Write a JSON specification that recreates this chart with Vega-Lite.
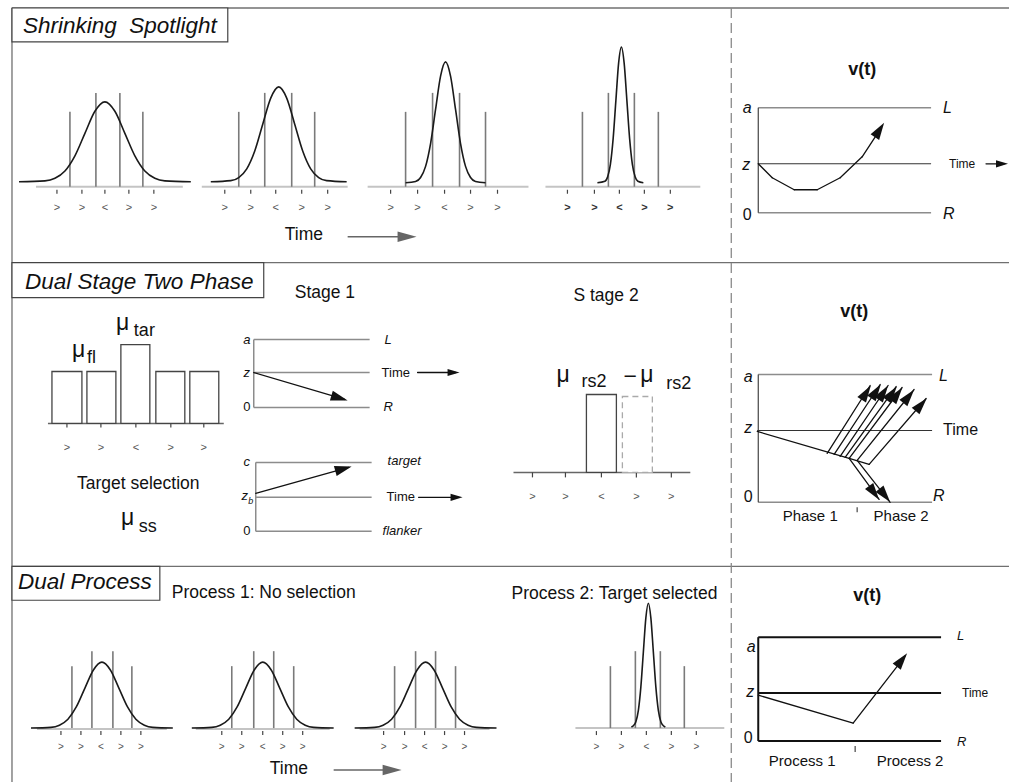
{
  "$schema": "https://vega.github.io/schema/vega-lite/v6.json",
  "width": 1010,
  "height": 783,
  "autosize": {"type": "fit", "contains": "padding"},
  "padding": 0,
  "background": "white",
  "config": {"view": {"stroke": null}},
  "datasets": {
    "seg": [
      {"g": "frame", "x": 12, "y": 8, "x2": 1010, "y2": 8},
      {"g": "frame", "x": 12, "y": 8, "x2": 12, "y2": 783},
      {"g": "frame", "x": 12, "y": 263, "x2": 1010, "y2": 263},
      {"g": "frame", "x": 12, "y": 567, "x2": 1010, "y2": 567},
      {"g": "divider", "x": 732, "y": 8, "x2": 732, "y2": 783},

      {"g": "base", "x": 36, "y": 187, "x2": 183, "y2": 187},
      {"g": "base", "x": 202, "y": 187, "x2": 348, "y2": 187},
      {"g": "base", "x": 368, "y": 187, "x2": 529, "y2": 187},
      {"g": "base", "x": 546, "y": 187, "x2": 701, "y2": 187},
      {"g": "base", "x": 37, "y": 730, "x2": 167, "y2": 730},
      {"g": "base", "x": 196, "y": 730, "x2": 330, "y2": 730},
      {"g": "base", "x": 360, "y": 730, "x2": 490, "y2": 730},
      {"g": "base", "x": 576, "y": 729, "x2": 725, "y2": 729},
      {"g": "axis", "x": 48, "y": 424, "x2": 224, "y2": 424},
      {"g": "axis", "x": 514, "y": 473, "x2": 691, "y2": 473},

      {"g": "stim", "x": 70, "y": 112, "x2": 70, "y2": 187},
      {"g": "stim", "x": 96, "y": 93, "x2": 96, "y2": 187},
      {"g": "stim", "x": 120, "y": 93, "x2": 120, "y2": 187},
      {"g": "stim", "x": 143, "y": 112, "x2": 143, "y2": 187},
      {"g": "stim", "x": 239, "y": 112, "x2": 239, "y2": 187},
      {"g": "stim", "x": 265, "y": 93, "x2": 265, "y2": 187},
      {"g": "stim", "x": 292, "y": 93, "x2": 292, "y2": 187},
      {"g": "stim", "x": 315, "y": 112, "x2": 315, "y2": 187},
      {"g": "stim", "x": 406, "y": 112, "x2": 406, "y2": 187},
      {"g": "stim", "x": 433, "y": 93, "x2": 433, "y2": 187},
      {"g": "stim", "x": 460, "y": 93, "x2": 460, "y2": 187},
      {"g": "stim", "x": 486, "y": 112, "x2": 486, "y2": 187},
      {"g": "stim", "x": 583, "y": 112, "x2": 583, "y2": 187},
      {"g": "stim", "x": 609, "y": 93, "x2": 609, "y2": 187},
      {"g": "stim", "x": 635, "y": 93, "x2": 635, "y2": 187},
      {"g": "stim", "x": 659, "y": 112, "x2": 659, "y2": 187},
      {"g": "stim", "x": 72, "y": 667, "x2": 72, "y2": 729},
      {"g": "stim", "x": 92, "y": 652, "x2": 92, "y2": 729},
      {"g": "stim", "x": 113, "y": 652, "x2": 113, "y2": 729},
      {"g": "stim", "x": 132, "y": 667, "x2": 132, "y2": 729},
      {"g": "stim", "x": 232, "y": 667, "x2": 232, "y2": 729},
      {"g": "stim", "x": 254, "y": 652, "x2": 254, "y2": 729},
      {"g": "stim", "x": 274, "y": 652, "x2": 274, "y2": 729},
      {"g": "stim", "x": 294, "y": 667, "x2": 294, "y2": 729},
      {"g": "stim", "x": 395, "y": 667, "x2": 395, "y2": 729},
      {"g": "stim", "x": 416, "y": 652, "x2": 416, "y2": 729},
      {"g": "stim", "x": 436, "y": 652, "x2": 436, "y2": 729},
      {"g": "stim", "x": 456, "y": 667, "x2": 456, "y2": 729},
      {"g": "stim", "x": 611, "y": 667, "x2": 611, "y2": 729},
      {"g": "stim", "x": 636, "y": 652, "x2": 636, "y2": 729},
      {"g": "stim", "x": 661, "y": 652, "x2": 661, "y2": 729},
      {"g": "stim", "x": 685, "y": 667, "x2": 685, "y2": 729},

      {"g": "tick", "x": 57, "y": 190, "x2": 57, "y2": 194},
      {"g": "tick", "x": 82, "y": 190, "x2": 82, "y2": 194},
      {"g": "tick", "x": 105, "y": 190, "x2": 105, "y2": 194},
      {"g": "tick", "x": 129, "y": 190, "x2": 129, "y2": 194},
      {"g": "tick", "x": 154, "y": 190, "x2": 154, "y2": 194},
      {"g": "tick", "x": 225, "y": 190, "x2": 225, "y2": 194},
      {"g": "tick", "x": 251, "y": 190, "x2": 251, "y2": 194},
      {"g": "tick", "x": 276, "y": 190, "x2": 276, "y2": 194},
      {"g": "tick", "x": 302, "y": 190, "x2": 302, "y2": 194},
      {"g": "tick", "x": 328, "y": 190, "x2": 328, "y2": 194},
      {"g": "tick", "x": 391, "y": 190, "x2": 391, "y2": 194},
      {"g": "tick", "x": 418, "y": 190, "x2": 418, "y2": 194},
      {"g": "tick", "x": 445, "y": 190, "x2": 445, "y2": 194},
      {"g": "tick", "x": 471, "y": 190, "x2": 471, "y2": 194},
      {"g": "tick", "x": 498, "y": 190, "x2": 498, "y2": 194},
      {"g": "tick", "x": 568, "y": 190, "x2": 568, "y2": 194},
      {"g": "tick", "x": 595, "y": 190, "x2": 595, "y2": 194},
      {"g": "tick", "x": 620, "y": 190, "x2": 620, "y2": 194},
      {"g": "tick", "x": 645, "y": 190, "x2": 645, "y2": 194},
      {"g": "tick", "x": 671, "y": 190, "x2": 671, "y2": 194},
      {"g": "tick", "x": 67, "y": 424, "x2": 67, "y2": 428},
      {"g": "tick", "x": 101, "y": 424, "x2": 101, "y2": 428},
      {"g": "tick", "x": 136, "y": 424, "x2": 136, "y2": 428},
      {"g": "tick", "x": 171, "y": 424, "x2": 171, "y2": 428},
      {"g": "tick", "x": 204, "y": 424, "x2": 204, "y2": 428},
      {"g": "tick", "x": 533, "y": 473, "x2": 533, "y2": 478},
      {"g": "tick", "x": 566, "y": 473, "x2": 566, "y2": 478},
      {"g": "tick", "x": 602, "y": 473, "x2": 602, "y2": 478},
      {"g": "tick", "x": 637, "y": 473, "x2": 637, "y2": 478},
      {"g": "tick", "x": 672, "y": 473, "x2": 672, "y2": 478},
      {"g": "tick", "x": 61, "y": 732, "x2": 61, "y2": 736},
      {"g": "tick", "x": 81, "y": 732, "x2": 81, "y2": 736},
      {"g": "tick", "x": 101, "y": 732, "x2": 101, "y2": 736},
      {"g": "tick", "x": 121, "y": 732, "x2": 121, "y2": 736},
      {"g": "tick", "x": 141, "y": 732, "x2": 141, "y2": 736},
      {"g": "tick", "x": 222, "y": 732, "x2": 222, "y2": 736},
      {"g": "tick", "x": 242, "y": 732, "x2": 242, "y2": 736},
      {"g": "tick", "x": 263, "y": 732, "x2": 263, "y2": 736},
      {"g": "tick", "x": 283, "y": 732, "x2": 283, "y2": 736},
      {"g": "tick", "x": 303, "y": 732, "x2": 303, "y2": 736},
      {"g": "tick", "x": 384, "y": 732, "x2": 384, "y2": 736},
      {"g": "tick", "x": 405, "y": 732, "x2": 405, "y2": 736},
      {"g": "tick", "x": 425, "y": 732, "x2": 425, "y2": 736},
      {"g": "tick", "x": 445, "y": 732, "x2": 445, "y2": 736},
      {"g": "tick", "x": 465, "y": 732, "x2": 465, "y2": 736},
      {"g": "tick", "x": 597, "y": 732, "x2": 597, "y2": 736},
      {"g": "tick", "x": 622, "y": 732, "x2": 622, "y2": 736},
      {"g": "tick", "x": 647, "y": 732, "x2": 647, "y2": 736},
      {"g": "tick", "x": 672, "y": 732, "x2": 672, "y2": 736},
      {"g": "tick", "x": 697, "y": 732, "x2": 697, "y2": 736},
      {"g": "tick", "x": 858, "y": 508, "x2": 858, "y2": 513},
      {"g": "tick", "x": 856, "y": 747, "x2": 856, "y2": 753},

      {"g": "ddm", "x": 254, "y": 340, "x2": 254, "y2": 408},
      {"g": "ddm", "x": 254, "y": 340, "x2": 370, "y2": 340},
      {"g": "ddm", "x": 254, "y": 373, "x2": 370, "y2": 373},
      {"g": "ddm", "x": 254, "y": 408, "x2": 370, "y2": 408},
      {"g": "ddm", "x": 256, "y": 463, "x2": 256, "y2": 532},
      {"g": "ddm", "x": 256, "y": 463, "x2": 372, "y2": 463},
      {"g": "ddm", "x": 256, "y": 498, "x2": 372, "y2": 498},
      {"g": "ddm", "x": 256, "y": 532, "x2": 372, "y2": 532},
      {"g": "ddm", "x": 759, "y": 108, "x2": 932, "y2": 108},
      {"g": "ddm", "x": 759, "y": 213, "x2": 932, "y2": 213},
      {"g": "ddm", "x": 759, "y": 375, "x2": 933, "y2": 375},
      {"g": "ddm", "x": 759, "y": 503, "x2": 933, "y2": 503},
      {"g": "zline", "x": 759, "y": 108, "x2": 759, "y2": 213},
      {"g": "zline", "x": 759, "y": 164, "x2": 932, "y2": 164},
      {"g": "zline", "x": 759, "y": 375, "x2": 759, "y2": 503},
      {"g": "zline", "x": 758, "y": 431, "x2": 933, "y2": 431},
      {"g": "bold", "x": 759, "y": 638, "x2": 759, "y2": 742},
      {"g": "bold", "x": 759, "y": 638, "x2": 942, "y2": 638},
      {"g": "bold", "x": 759, "y": 694, "x2": 942, "y2": 694},
      {"g": "bold", "x": 759, "y": 742, "x2": 942, "y2": 742},

      {"g": "shaft", "x": 418, "y": 373, "x2": 456, "y2": 373},
      {"g": "shaft", "x": 419, "y": 498, "x2": 459, "y2": 498},
      {"g": "shaft", "x": 254, "y": 373, "x2": 345, "y2": 400},
      {"g": "shaft", "x": 256, "y": 494, "x2": 349, "y2": 468},
      {"g": "shaft", "x": 987, "y": 164, "x2": 1005, "y2": 164},
      {"g": "shaft", "x": 759, "y": 164, "x2": 773, "y2": 178},
      {"g": "shaft", "x": 773, "y": 178, "x2": 795, "y2": 190},
      {"g": "shaft", "x": 795, "y": 190, "x2": 818, "y2": 190},
      {"g": "shaft", "x": 818, "y": 190, "x2": 841, "y2": 178},
      {"g": "shaft", "x": 841, "y": 178, "x2": 863, "y2": 157},
      {"g": "shaft", "x": 863, "y": 157, "x2": 882, "y2": 128},
      {"g": "shaft", "x": 758, "y": 432, "x2": 850, "y2": 459},
      {"g": "shaft", "x": 850, "y": 459, "x2": 870, "y2": 465},
      {"g": "shaft", "x": 828, "y": 454, "x2": 871, "y2": 386},
      {"g": "shaft", "x": 835, "y": 455, "x2": 881, "y2": 385},
      {"g": "shaft", "x": 841, "y": 457, "x2": 889, "y2": 386},
      {"g": "shaft", "x": 846, "y": 458, "x2": 897, "y2": 387},
      {"g": "shaft", "x": 850, "y": 459, "x2": 903, "y2": 388},
      {"g": "shaft", "x": 858, "y": 461, "x2": 915, "y2": 390},
      {"g": "shaft", "x": 870, "y": 465, "x2": 927, "y2": 399},
      {"g": "shaft", "x": 850, "y": 459, "x2": 880, "y2": 500},
      {"g": "shaft", "x": 858, "y": 461, "x2": 891, "y2": 503},
      {"g": "shaft", "x": 759, "y": 696, "x2": 854, "y2": 724},
      {"g": "shaft", "x": 854, "y": 724, "x2": 906, "y2": 657},
      {"g": "timeline", "x": 348, "y": 237, "x2": 402, "y2": 237},
      {"g": "timeline", "x": 334, "y": 771, "x2": 388, "y2": 771}
    ],
    "rects": [
      {"g": "box", "x": 12, "x2": 228, "y": 8, "y2": 42},
      {"g": "box", "x": 12, "x2": 264, "y": 263, "y2": 298},
      {"g": "box", "x": 12, "x2": 160, "y": 567, "y2": 601},
      {"g": "bar", "x": 52, "x2": 82, "y": 372, "y2": 424},
      {"g": "bar", "x": 87, "x2": 116, "y": 372, "y2": 424},
      {"g": "bar", "x": 121, "x2": 150, "y": 345, "y2": 424},
      {"g": "bar", "x": 156, "x2": 185, "y": 372, "y2": 424},
      {"g": "bar", "x": 190, "x2": 219, "y": 372, "y2": 424},
      {"g": "bar", "x": 587, "x2": 617, "y": 395, "y2": 473},
      {"g": "ghost", "x": 623, "x2": 653, "y": 397, "y2": 473}
    ],
    "curves": [
      {"c": "s1", "x": 19, "y": 182}, {"c": "s1", "x": 45, "y": 181.1}, {"c": "s1", "x": 55, "y": 178.5},
      {"c": "s1", "x": 65, "y": 171.2}, {"c": "s1", "x": 75, "y": 156}, {"c": "s1", "x": 85, "y": 133.5},
      {"c": "s1", "x": 95, "y": 111.4}, {"c": "s1", "x": 105, "y": 102}, {"c": "s1", "x": 115, "y": 111.4},
      {"c": "s1", "x": 125, "y": 133.5}, {"c": "s1", "x": 135, "y": 156}, {"c": "s1", "x": 145, "y": 171.2},
      {"c": "s1", "x": 155, "y": 178.5}, {"c": "s1", "x": 165, "y": 181.1}, {"c": "s1", "x": 191, "y": 182},

      {"c": "s2", "x": 211, "y": 182}, {"c": "s2", "x": 231, "y": 180.9}, {"c": "s2", "x": 239, "y": 177.8},
      {"c": "s2", "x": 247, "y": 169.1}, {"c": "s2", "x": 255, "y": 151.2}, {"c": "s2", "x": 263, "y": 124.4},
      {"c": "s2", "x": 271, "y": 98.2}, {"c": "s2", "x": 279, "y": 87}, {"c": "s2", "x": 287, "y": 98.2},
      {"c": "s2", "x": 295, "y": 124.4}, {"c": "s2", "x": 303, "y": 151.2}, {"c": "s2", "x": 311, "y": 169.1},
      {"c": "s2", "x": 319, "y": 177.8}, {"c": "s2", "x": 327, "y": 180.9}, {"c": "s2", "x": 347, "y": 182},

      {"c": "s3", "x": 406, "y": 183}, {"c": "s3", "x": 416, "y": 181.7}, {"c": "s3", "x": 421, "y": 177.7},
      {"c": "s3", "x": 426, "y": 166.6}, {"c": "s3", "x": 431, "y": 143.7}, {"c": "s3", "x": 436, "y": 109.6},
      {"c": "s3", "x": 441, "y": 76.2}, {"c": "s3", "x": 446, "y": 62}, {"c": "s3", "x": 451, "y": 76.2},
      {"c": "s3", "x": 456, "y": 109.6}, {"c": "s3", "x": 461, "y": 143.7}, {"c": "s3", "x": 466, "y": 166.6},
      {"c": "s3", "x": 471, "y": 177.7}, {"c": "s3", "x": 476, "y": 181.7}, {"c": "s3", "x": 486, "y": 183},

      {"c": "s4", "x": 598, "y": 183}, {"c": "s4", "x": 605.5, "y": 181.5}, {"c": "s4", "x": 608.25, "y": 177},
      {"c": "s4", "x": 611, "y": 164.6}, {"c": "s4", "x": 613.75, "y": 138.8}, {"c": "s4", "x": 616.5, "y": 100.5},
      {"c": "s4", "x": 619.25, "y": 63}, {"c": "s4", "x": 622, "y": 47}, {"c": "s4", "x": 624.75, "y": 63},
      {"c": "s4", "x": 627.5, "y": 100.5}, {"c": "s4", "x": 630.25, "y": 138.8}, {"c": "s4", "x": 633, "y": 164.6},
      {"c": "s4", "x": 635.75, "y": 177}, {"c": "s4", "x": 638.5, "y": 181.5}, {"c": "s4", "x": 644, "y": 183},

      {"c": "d1", "x": 31, "y": 729}, {"c": "d1", "x": 51, "y": 728.3}, {"c": "d1", "x": 59.5, "y": 726.1},
      {"c": "d1", "x": 68, "y": 720.1}, {"c": "d1", "x": 76.5, "y": 707.6}, {"c": "d1", "x": 85, "y": 689},
      {"c": "d1", "x": 93.5, "y": 670.8}, {"c": "d1", "x": 102, "y": 663}, {"c": "d1", "x": 110.5, "y": 670.8},
      {"c": "d1", "x": 119, "y": 689}, {"c": "d1", "x": 127.5, "y": 707.6}, {"c": "d1", "x": 136, "y": 720.1},
      {"c": "d1", "x": 144.5, "y": 726.1}, {"c": "d1", "x": 153, "y": 728.3}, {"c": "d1", "x": 173, "y": 729},

      {"c": "d2", "x": 192, "y": 729}, {"c": "d2", "x": 212, "y": 728.3}, {"c": "d2", "x": 220.5, "y": 726.1},
      {"c": "d2", "x": 229, "y": 720.1}, {"c": "d2", "x": 237.5, "y": 707.6}, {"c": "d2", "x": 246, "y": 689},
      {"c": "d2", "x": 254.5, "y": 670.8}, {"c": "d2", "x": 263, "y": 663}, {"c": "d2", "x": 271.5, "y": 670.8},
      {"c": "d2", "x": 280, "y": 689}, {"c": "d2", "x": 288.5, "y": 707.6}, {"c": "d2", "x": 297, "y": 720.1},
      {"c": "d2", "x": 305.5, "y": 726.1}, {"c": "d2", "x": 314, "y": 728.3}, {"c": "d2", "x": 334, "y": 729},

      {"c": "d3", "x": 355, "y": 729}, {"c": "d3", "x": 375, "y": 728.3}, {"c": "d3", "x": 383.5, "y": 726.1},
      {"c": "d3", "x": 392, "y": 720.1}, {"c": "d3", "x": 400.5, "y": 707.6}, {"c": "d3", "x": 409, "y": 689},
      {"c": "d3", "x": 417.5, "y": 670.8}, {"c": "d3", "x": 426, "y": 663}, {"c": "d3", "x": 434.5, "y": 670.8},
      {"c": "d3", "x": 443, "y": 689}, {"c": "d3", "x": 451.5, "y": 707.6}, {"c": "d3", "x": 460, "y": 720.1},
      {"c": "d3", "x": 468.5, "y": 726.1}, {"c": "d3", "x": 477, "y": 728.3}, {"c": "d3", "x": 497, "y": 729},

      {"c": "d4", "x": 632, "y": 728}, {"c": "d4", "x": 634, "y": 726.6}, {"c": "d4", "x": 636.5, "y": 722.6},
      {"c": "d4", "x": 639, "y": 711.2}, {"c": "d4", "x": 641.5, "y": 687.7}, {"c": "d4", "x": 644, "y": 652.8},
      {"c": "d4", "x": 646.5, "y": 618.6}, {"c": "d4", "x": 649, "y": 604}, {"c": "d4", "x": 651.5, "y": 618.6},
      {"c": "d4", "x": 654, "y": 652.8}, {"c": "d4", "x": 656.5, "y": 687.7}, {"c": "d4", "x": 659, "y": 711.2},
      {"c": "d4", "x": 661.5, "y": 722.6}, {"c": "d4", "x": 664, "y": 726.6}, {"c": "d4", "x": 666, "y": 728}
    ],
    "heads": [
      {"r": "time", "x": 417, "y": 237, "dir": 0},
      {"r": "time", "x": 402, "y": 771, "dir": 0},
      {"r": "axis", "x": 460, "y": 373, "dir": 0},
      {"r": "axis", "x": 463, "y": 498, "dir": 0},
      {"r": "axis", "x": 1009, "y": 164, "dir": 0},
      {"r": "drift", "x": 348, "y": 401, "dir": 16.6},
      {"r": "drift", "x": 352, "y": 467, "dir": 344.3},
      {"r": "drift", "x": 885, "y": 123, "dir": 303},
      {"r": "drift", "x": 871.7, "y": 386, "dir": 302.5},
      {"r": "drift", "x": 881.7, "y": 384.7, "dir": 303.5},
      {"r": "drift", "x": 889, "y": 386, "dir": 304},
      {"r": "drift", "x": 897.7, "y": 387, "dir": 306},
      {"r": "drift", "x": 903.3, "y": 388, "dir": 307},
      {"r": "drift", "x": 915, "y": 390.3, "dir": 309},
      {"r": "drift", "x": 927.7, "y": 398.7, "dir": 311},
      {"r": "drift", "x": 880, "y": 500.3, "dir": 53.8},
      {"r": "drift", "x": 891, "y": 502.7, "dir": 51.4},
      {"r": "drift", "x": 908, "y": 654, "dir": 307.6}
    ],
    "txt": [
      {"s": "title", "t": "Shrinking\u00a0 Spotlight", "x": 23, "y": 33},
      {"s": "title", "t": "Dual Stage Two Phase", "x": 25, "y": 289},
      {"s": "title", "t": "Dual Process", "x": 18, "y": 590},

      {"s": "head", "t": "Time", "x": 285, "y": 240},
      {"s": "head", "t": "Stage 1", "x": 295, "y": 298},
      {"s": "head", "t": "S tage 2", "x": 574, "y": 301},
      {"s": "head", "t": "Target selection", "x": 77, "y": 490},
      {"s": "head", "t": "Process 1: No selection", "x": 172, "y": 599},
      {"s": "head", "t": "Process 2: Target selected", "x": 512, "y": 600},
      {"s": "head", "t": "Time", "x": 270, "y": 775},

      {"s": "vt", "t": "v(t)", "x": 863, "y": 75},
      {"s": "vt", "t": "v(t)", "x": 855, "y": 317},
      {"s": "vt", "t": "v(t)", "x": 868, "y": 602},

      {"s": "mu", "t": "μ", "x": 116, "y": 330},
      {"s": "mu", "t": "μ", "x": 72, "y": 357},
      {"s": "mu", "t": "μ", "x": 121, "y": 526},
      {"s": "mu", "t": "μ", "x": 557, "y": 382},
      {"s": "mu", "t": "−", "x": 624, "y": 384},
      {"s": "mu", "t": "μ", "x": 641, "y": 382},
      {"s": "sub", "t": "tar", "x": 134, "y": 336},
      {"s": "sub", "t": "fl", "x": 87, "y": 363},
      {"s": "sub", "t": "ss", "x": 139, "y": 533},
      {"s": "sub", "t": "rs2", "x": 582, "y": 387},
      {"s": "sub", "t": "rs2", "x": 667, "y": 389},

      {"s": "sym", "t": ">", "x": 57, "y": 208}, {"s": "sym", "t": ">", "x": 82, "y": 208},
      {"s": "sym", "t": "<", "x": 105, "y": 208}, {"s": "sym", "t": ">", "x": 129, "y": 208},
      {"s": "sym", "t": ">", "x": 154, "y": 208},
      {"s": "sym", "t": ">", "x": 225, "y": 208}, {"s": "sym", "t": ">", "x": 251, "y": 208},
      {"s": "sym", "t": "<", "x": 276, "y": 208}, {"s": "sym", "t": ">", "x": 302, "y": 208},
      {"s": "sym", "t": ">", "x": 328, "y": 208},
      {"s": "sym", "t": ">", "x": 391, "y": 208}, {"s": "sym", "t": ">", "x": 418, "y": 208},
      {"s": "sym", "t": "<", "x": 445, "y": 208}, {"s": "sym", "t": ">", "x": 471, "y": 208},
      {"s": "sym", "t": ">", "x": 498, "y": 208},
      {"s": "symB", "t": ">", "x": 568, "y": 208}, {"s": "symB", "t": ">", "x": 595, "y": 208},
      {"s": "symB", "t": "<", "x": 620, "y": 208}, {"s": "symB", "t": ">", "x": 645, "y": 208},
      {"s": "symB", "t": ">", "x": 671, "y": 208},
      {"s": "sym", "t": ">", "x": 67, "y": 449}, {"s": "sym", "t": ">", "x": 101, "y": 449},
      {"s": "sym", "t": "<", "x": 136, "y": 449}, {"s": "sym", "t": ">", "x": 171, "y": 449},
      {"s": "sym", "t": ">", "x": 204, "y": 449},
      {"s": "sym", "t": ">", "x": 533, "y": 498}, {"s": "sym", "t": ">", "x": 566, "y": 498},
      {"s": "sym", "t": "<", "x": 602, "y": 498}, {"s": "sym", "t": ">", "x": 637, "y": 498},
      {"s": "sym", "t": ">", "x": 672, "y": 498},
      {"s": "symS", "t": ">", "x": 61, "y": 748}, {"s": "symS", "t": ">", "x": 81, "y": 748},
      {"s": "symS", "t": "<", "x": 101, "y": 748}, {"s": "symS", "t": ">", "x": 121, "y": 748},
      {"s": "symS", "t": ">", "x": 141, "y": 748},
      {"s": "symS", "t": ">", "x": 222, "y": 748}, {"s": "symS", "t": ">", "x": 242, "y": 748},
      {"s": "symS", "t": "<", "x": 263, "y": 748}, {"s": "symS", "t": ">", "x": 283, "y": 748},
      {"s": "symS", "t": ">", "x": 303, "y": 748},
      {"s": "symS", "t": ">", "x": 384, "y": 748}, {"s": "symS", "t": ">", "x": 405, "y": 748},
      {"s": "symS", "t": "<", "x": 425, "y": 748}, {"s": "symS", "t": ">", "x": 445, "y": 748},
      {"s": "symS", "t": ">", "x": 465, "y": 748},
      {"s": "symS", "t": ">", "x": 597, "y": 748}, {"s": "symS", "t": ">", "x": 622, "y": 748},
      {"s": "symS", "t": "<", "x": 647, "y": 748}, {"s": "symS", "t": ">", "x": 672, "y": 748},
      {"s": "symS", "t": ">", "x": 697, "y": 748},

      {"s": "bigI", "t": "a", "x": 748, "y": 108},
      {"s": "bigI", "t": "z", "x": 747, "y": 165},
      {"s": "big0", "t": "0", "x": 748, "y": 215},
      {"s": "bigI", "t": "a", "x": 749, "y": 377},
      {"s": "bigI", "t": "z", "x": 749, "y": 429},
      {"s": "big0", "t": "0", "x": 749, "y": 498},
      {"s": "bigI", "t": "a", "x": 752, "y": 648},
      {"s": "bigI", "t": "z", "x": 751, "y": 693},
      {"s": "big0", "t": "0", "x": 749, "y": 739},

      {"s": "rlI", "t": "L", "x": 944, "y": 108},
      {"s": "rlI", "t": "R", "x": 944, "y": 214},
      {"s": "rlI", "t": "L", "x": 940, "y": 376},
      {"s": "rlI", "t": "R", "x": 934, "y": 497},
      {"s": "rlI13", "t": "L", "x": 958, "y": 637},
      {"s": "rlI13", "t": "R", "x": 958, "y": 743},
      {"s": "rlI13", "t": "L", "x": 385, "y": 340},
      {"s": "rlI13", "t": "R", "x": 384, "y": 408},
      {"s": "rlI13", "t": "target", "x": 388, "y": 462},
      {"s": "rlI13", "t": "flanker", "x": 383, "y": 532},

      {"s": "tm12", "t": "Time", "x": 950, "y": 164},
      {"s": "tm12", "t": "Time", "x": 963, "y": 694},
      {"s": "tm13", "t": "Time", "x": 382, "y": 373},
      {"s": "tm13", "t": "Time", "x": 387, "y": 498},
      {"s": "tm16", "t": "Time", "x": 944, "y": 431},

      {"s": "smI", "t": "a", "x": 247, "y": 340},
      {"s": "smI", "t": "z", "x": 247, "y": 373},
      {"s": "sm0", "t": "0", "x": 247, "y": 408},
      {"s": "smI", "t": "c", "x": 247, "y": 463},
      {"s": "smI", "t": "z", "x": 245, "y": 497},
      {"s": "sub9", "t": "b", "x": 251, "y": 502},
      {"s": "sm0", "t": "0", "x": 247, "y": 532},

      {"s": "ph", "t": "Phase 1", "x": 811, "y": 522},
      {"s": "ph", "t": "Phase 2", "x": 902, "y": 522},
      {"s": "ph", "t": "Process 1", "x": 803, "y": 767},
      {"s": "ph", "t": "Process 2", "x": 911, "y": 767}
    ]
  },
  "encoding": {
    "x": {"field": "x", "type": "quantitative", "scale": {"domain": [0, 1010], "nice": false, "zero": false}, "axis": null},
    "y": {"field": "y", "type": "quantitative", "scale": {"domain": [0, 783], "nice": false, "zero": false, "reverse": true}, "axis": null}
  },
  "layer": [
    {"data": {"name": "seg"}, "transform": [{"filter": "datum.g === 'frame'"}],
     "mark": {"type": "rule", "stroke": "#707070", "strokeWidth": 1.3},
     "encoding": {"x2": {"field": "x2"}, "y2": {"field": "y2"}}},
    {"data": {"name": "seg"}, "transform": [{"filter": "datum.g === 'divider'"}],
     "mark": {"type": "rule", "stroke": "#8a8a8a", "strokeWidth": 1.3, "strokeDash": [10, 5]},
     "encoding": {"x2": {"field": "x2"}, "y2": {"field": "y2"}}},
    {"data": {"name": "rects"}, "transform": [{"filter": "datum.g === 'box'"}],
     "mark": {"type": "rect", "fill": "white", "stroke": "#444", "strokeWidth": 1.2},
     "encoding": {"x2": {"field": "x2"}, "y2": {"field": "y2"}}},
    {"data": {"name": "seg"}, "transform": [{"filter": "datum.g === 'base'"}],
     "mark": {"type": "rule", "stroke": "#c4c4c4", "strokeWidth": 2},
     "encoding": {"x2": {"field": "x2"}, "y2": {"field": "y2"}}},
    {"data": {"name": "seg"}, "transform": [{"filter": "datum.g === 'axis'"}],
     "mark": {"type": "rule", "stroke": "#666", "strokeWidth": 1.5},
     "encoding": {"x2": {"field": "x2"}, "y2": {"field": "y2"}}},
    {"data": {"name": "seg"}, "transform": [{"filter": "datum.g === 'stim'"}],
     "mark": {"type": "rule", "stroke": "#7a7a7a", "strokeWidth": 1.6},
     "encoding": {"x2": {"field": "x2"}, "y2": {"field": "y2"}}},
    {"data": {"name": "seg"}, "transform": [{"filter": "datum.g === 'tick'"}],
     "mark": {"type": "rule", "stroke": "#444", "strokeWidth": 1.2},
     "encoding": {"x2": {"field": "x2"}, "y2": {"field": "y2"}}},
    {"data": {"name": "seg"}, "transform": [{"filter": "datum.g === 'ddm'"}],
     "mark": {"type": "rule", "stroke": "#8c8c8c", "strokeWidth": 1.5},
     "encoding": {"x2": {"field": "x2"}, "y2": {"field": "y2"}}},
    {"data": {"name": "seg"}, "transform": [{"filter": "datum.g === 'zline'"}],
     "mark": {"type": "rule", "stroke": "#333", "strokeWidth": 1.1},
     "encoding": {"x2": {"field": "x2"}, "y2": {"field": "y2"}}},
    {"data": {"name": "seg"}, "transform": [{"filter": "datum.g === 'bold'"}],
     "mark": {"type": "rule", "stroke": "#111", "strokeWidth": 2},
     "encoding": {"x2": {"field": "x2"}, "y2": {"field": "y2"}}},
    {"data": {"name": "rects"}, "transform": [{"filter": "datum.g === 'bar'"}],
     "mark": {"type": "rect", "fill": "white", "stroke": "#444", "strokeWidth": 1.3},
     "encoding": {"x2": {"field": "x2"}, "y2": {"field": "y2"}}},
    {"data": {"name": "rects"}, "transform": [{"filter": "datum.g === 'ghost'"}],
     "mark": {"type": "rect", "fill": "white", "stroke": "#aaa", "strokeWidth": 1.3, "strokeDash": [6, 4]},
     "encoding": {"x2": {"field": "x2"}, "y2": {"field": "y2"}}},
    {"data": {"name": "curves"},
     "mark": {"type": "line", "interpolate": "monotone", "stroke": "#1a1a1a", "strokeWidth": 1.6},
     "encoding": {"detail": {"field": "c"}}},
    {"data": {"name": "seg"}, "transform": [{"filter": "datum.g === 'shaft'"}],
     "mark": {"type": "rule", "stroke": "#111", "strokeWidth": 1.3, "strokeCap": "round"},
     "encoding": {"x2": {"field": "x2"}, "y2": {"field": "y2"}}},
    {"data": {"name": "seg"}, "transform": [{"filter": "datum.g === 'timeline'"}],
     "mark": {"type": "rule", "stroke": "#666", "strokeWidth": 1.6},
     "encoding": {"x2": {"field": "x2"}, "y2": {"field": "y2"}}},
    {"data": {"name": "heads"}, "transform": [{"filter": "datum.r === 'time'"}],
     "mark": {"type": "point", "shape": "M0,0L-1,-0.28L-1,0.28Z", "filled": true, "color": "#666", "size": 1444, "opacity": 1, "strokeWidth": 0},
     "encoding": {"angle": {"field": "dir", "type": "quantitative", "scale": null}}},
    {"data": {"name": "heads"}, "transform": [{"filter": "datum.r === 'axis'"}],
     "mark": {"type": "point", "shape": "M0,0L-1,-0.3L-1,0.3Z", "filled": true, "color": "#111", "size": 576, "opacity": 1, "strokeWidth": 0},
     "encoding": {"angle": {"field": "dir", "type": "quantitative", "scale": null}}},
    {"data": {"name": "heads"}, "transform": [{"filter": "datum.r === 'drift'"}],
     "mark": {"type": "point", "shape": "M0,0L-1,-0.3L-1,0.3Z", "filled": true, "color": "#111", "size": 1156, "opacity": 1, "strokeWidth": 0},
     "encoding": {"angle": {"field": "dir", "type": "quantitative", "scale": null}}},

    {"data": {"name": "txt"}, "transform": [{"filter": "datum.s === 'title'"}],
     "mark": {"type": "text", "font": "Liberation Sans", "fontStyle": "italic", "fontSize": 22.5, "align": "left", "baseline": "alphabetic", "color": "#111"},
     "encoding": {"text": {"field": "t"}}},
    {"data": {"name": "txt"}, "transform": [{"filter": "datum.s === 'head'"}],
     "mark": {"type": "text", "font": "Liberation Sans", "fontSize": 17.5, "align": "left", "baseline": "alphabetic", "color": "#111"},
     "encoding": {"text": {"field": "t"}}},
    {"data": {"name": "txt"}, "transform": [{"filter": "datum.s === 'vt'"}],
     "mark": {"type": "text", "font": "Liberation Sans Narrow, Liberation Sans", "fontWeight": "bold", "fontSize": 18, "align": "center", "baseline": "alphabetic", "color": "#111"},
     "encoding": {"text": {"field": "t"}}},
    {"data": {"name": "txt"}, "transform": [{"filter": "datum.s === 'mu'"}],
     "mark": {"type": "text", "font": "Liberation Sans", "fontSize": 23, "align": "left", "baseline": "alphabetic", "color": "#111"},
     "encoding": {"text": {"field": "t"}}},
    {"data": {"name": "txt"}, "transform": [{"filter": "datum.s === 'sub'"}],
     "mark": {"type": "text", "font": "Liberation Sans", "fontSize": 18, "align": "left", "baseline": "alphabetic", "color": "#111"},
     "encoding": {"text": {"field": "t"}}},
    {"data": {"name": "txt"}, "transform": [{"filter": "datum.s === 'sym'"}],
     "mark": {"type": "text", "font": "Liberation Sans", "fontSize": 11, "align": "center", "baseline": "middle", "color": "#555"},
     "encoding": {"text": {"field": "t"}}},
    {"data": {"name": "txt"}, "transform": [{"filter": "datum.s === 'symB'"}],
     "mark": {"type": "text", "font": "Liberation Sans", "fontWeight": "bold", "fontSize": 11, "align": "center", "baseline": "middle", "color": "#333"},
     "encoding": {"text": {"field": "t"}}},
    {"data": {"name": "txt"}, "transform": [{"filter": "datum.s === 'symS'"}],
     "mark": {"type": "text", "font": "Liberation Sans", "fontSize": 10, "align": "center", "baseline": "middle", "color": "#555"},
     "encoding": {"text": {"field": "t"}}},
    {"data": {"name": "txt"}, "transform": [{"filter": "datum.s === 'bigI'"}],
     "mark": {"type": "text", "font": "Liberation Sans", "fontStyle": "italic", "fontSize": 16, "align": "center", "baseline": "middle", "color": "#111"},
     "encoding": {"text": {"field": "t"}}},
    {"data": {"name": "txt"}, "transform": [{"filter": "datum.s === 'big0'"}],
     "mark": {"type": "text", "font": "Liberation Sans", "fontSize": 16, "align": "center", "baseline": "middle", "color": "#111"},
     "encoding": {"text": {"field": "t"}}},
    {"data": {"name": "txt"}, "transform": [{"filter": "datum.s === 'rlI'"}],
     "mark": {"type": "text", "font": "Liberation Sans", "fontStyle": "italic", "fontSize": 16, "align": "left", "baseline": "middle", "color": "#111"},
     "encoding": {"text": {"field": "t"}}},
    {"data": {"name": "txt"}, "transform": [{"filter": "datum.s === 'rlI13'"}],
     "mark": {"type": "text", "font": "Liberation Sans", "fontStyle": "italic", "fontSize": 13, "align": "left", "baseline": "middle", "color": "#111"},
     "encoding": {"text": {"field": "t"}}},
    {"data": {"name": "txt"}, "transform": [{"filter": "datum.s === 'tm12'"}],
     "mark": {"type": "text", "font": "Liberation Sans", "fontSize": 12, "align": "left", "baseline": "middle", "color": "#111"},
     "encoding": {"text": {"field": "t"}}},
    {"data": {"name": "txt"}, "transform": [{"filter": "datum.s === 'tm13'"}],
     "mark": {"type": "text", "font": "Liberation Sans", "fontSize": 13, "align": "left", "baseline": "middle", "color": "#111"},
     "encoding": {"text": {"field": "t"}}},
    {"data": {"name": "txt"}, "transform": [{"filter": "datum.s === 'tm16'"}],
     "mark": {"type": "text", "font": "Liberation Sans", "fontSize": 16, "align": "left", "baseline": "middle", "color": "#111"},
     "encoding": {"text": {"field": "t"}}},
    {"data": {"name": "txt"}, "transform": [{"filter": "datum.s === 'smI'"}],
     "mark": {"type": "text", "font": "Liberation Sans", "fontStyle": "italic", "fontSize": 13, "align": "center", "baseline": "middle", "color": "#111"},
     "encoding": {"text": {"field": "t"}}},
    {"data": {"name": "txt"}, "transform": [{"filter": "datum.s === 'sm0'"}],
     "mark": {"type": "text", "font": "Liberation Sans", "fontSize": 13, "align": "center", "baseline": "middle", "color": "#111"},
     "encoding": {"text": {"field": "t"}}},
    {"data": {"name": "txt"}, "transform": [{"filter": "datum.s === 'sub9'"}],
     "mark": {"type": "text", "font": "Liberation Sans", "fontStyle": "italic", "fontSize": 9, "align": "center", "baseline": "middle", "color": "#111"},
     "encoding": {"text": {"field": "t"}}},
    {"data": {"name": "txt"}, "transform": [{"filter": "datum.s === 'ph'"}],
     "mark": {"type": "text", "font": "Liberation Sans", "fontSize": 15, "align": "center", "baseline": "alphabetic", "color": "#111"},
     "encoding": {"text": {"field": "t"}}}
  ]
}
